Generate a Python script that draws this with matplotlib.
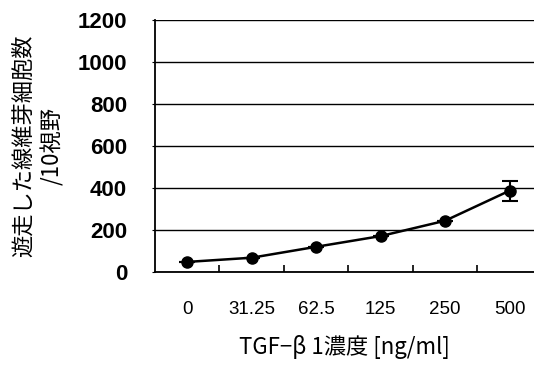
import numpy as np
import matplotlib
matplotlib.use("Agg")
import matplotlib.pyplot as plt

# Data
conc_labels = ["0", "31.25", "62.5", "125", "250", "500"]
cell_counts = [48, 68, 120, 171, 244, 387]
count_err = [0, 0, 0, 0, 0, 47]

y_ticks = [0, 200, 400, 600, 800, 1000, 1200]

plt.rcParams['font.family'] = ['Liberation Sans', 'Noto Sans CJK JP', 'DejaVu Sans']

fig = plt.figure(figsize=(5.34, 3.67), dpi=100)
ax = fig.add_axes([155 / 534, 95 / 367, 379 / 534, 252 / 367])

x = np.arange(len(conc_labels))
ax.errorbar(x, cell_counts, yerr=count_err, color="black", linewidth=1.8,
            marker="o", markersize=8, capsize=6, elinewidth=1.5, capthick=1.5,
            zorder=3)

# Gridlines and frame
ax.set_ylim(0, 1200)
ax.set_xlim(-0.5, 5.38)
ax.set_yticks(y_ticks)
ax.yaxis.grid(True, color="black", linewidth=1.0)
ax.set_axisbelow(True)
for side in ("top", "right"):
    ax.spines[side].set_visible(False)
ax.spines["left"].set_linewidth(1.3)
ax.spines["bottom"].set_linewidth(1.3)

ax.set_xticks(x)
ax.set_xticklabels(conc_labels, fontsize=13.5)
ax.set_xticks(x[:-1] + 0.5, minor=True)
ax.tick_params(axis="x", which="major", length=0, pad=21)
ax.tick_params(axis="x", which="minor", direction="in", length=5, width=1.2)
ax.tick_params(axis="y", direction="out", length=2)
ax.tick_params(axis="y", pad=18)
for lab in ax.get_yticklabels():
    lab.set_fontsize(16)
    lab.set_fontweight("bold")

ax.set_xlabel("TGF−β 1濃度 [ng/ml]", fontsize=16, labelpad=12,
              family=['Noto Sans CJK JP', 'DejaVu Sans'])
ax.set_ylabel("遊走した線維芽細胞数\n/10視野", fontsize=16, labelpad=10,
              linespacing=1.3, family=['Noto Sans CJK JP', 'DejaVu Sans'])

plt.savefig("out.png", dpi=100)
